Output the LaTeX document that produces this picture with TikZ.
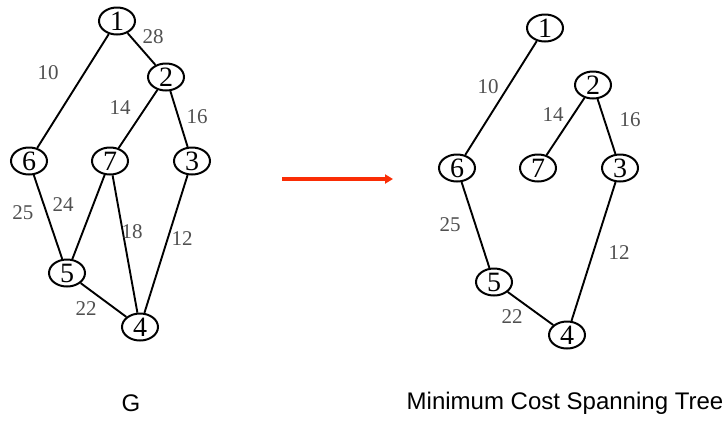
\documentclass[tikz,border=0pt]{standalone}
\usepackage{fontspec}
\setmainfont{Liberation Serif}
\setsansfont{Liberation Sans}
\usepackage{tikz}
\usetikzlibrary{arrows.meta,shapes.geometric,positioning,calc}

\definecolor{arrred}{RGB}{250,45,5}
\definecolor{wgray}{RGB}{80,80,80}

\begin{document}
\begin{tikzpicture}[x=1pt,y=-1pt,
  vtx/.style={draw, ellipse, line width=2pt, minimum width=36pt, minimum height=27pt,
    inner sep=0pt, font=\fontsize{28}{28}\selectfont},
  wt/.style={text=wgray, inner sep=0pt, font=\fontsize{21}{21}\selectfont},
  edge/.style={line width=1.9pt},
  captxt/.style={font=\sffamily\fontsize{24}{24}\selectfont, inner sep=0pt}]
\useasboundingbox (0,0) rectangle (727,421);
% graph G
\foreach \n/\x/\y in {1/117/21,2/166/77,6/29/161,7/110/161,3/192/161,5/67/273,4/140/327} {
  \node[vtx] (l\n) at (\x,\y) {\n};
}
\foreach \a/\b in {1/6,1/2,2/7,2/3,6/5,7/5,7/4,3/4,5/4} {
  \draw[edge] (l\a) -- (l\b);
}
\foreach \w/\x/\y in {10/48/73,28/153/37,14/120/108,16/197/117,25/23/213,24/63/205,18/132/232,12/182/239,22/86/309} {
  \node[wt] (lw\w) at (\x,\y) {\w};
}
% spanning tree
\foreach \n/\x/\y in {1/545/28,2/593/85,6/457/168,7/538/168,3/620/168,5/494/282,4/567/335} {
  \node[vtx] (r\n) at (\x,\y) {\n};
}
\foreach \a/\b in {1/6,2/7,2/3,6/5,3/4,5/4} {
  \draw[edge] (r\a) -- (r\b);
}
\foreach \w/\x/\y in {10/488/87,14/553/115,16/630/120,25/450/225,12/619/253,22/512/317} {
  \node[wt] (rw\w) at (\x,\y) {\w};
}
% arrow
\coordinate (arrS) at (282,179);
\coordinate (arrE) at (393,179);
\draw[arrred, line width=3.2pt, -{Triangle[length=8pt,width=9pt]}] (arrS) -- (arrE);
\node[captxt] (capG) at (131,403) {G};
\node[captxt] (capT) at (565,403) {Minimum Cost Spanning Tree};
\end{tikzpicture}
\end{document}
